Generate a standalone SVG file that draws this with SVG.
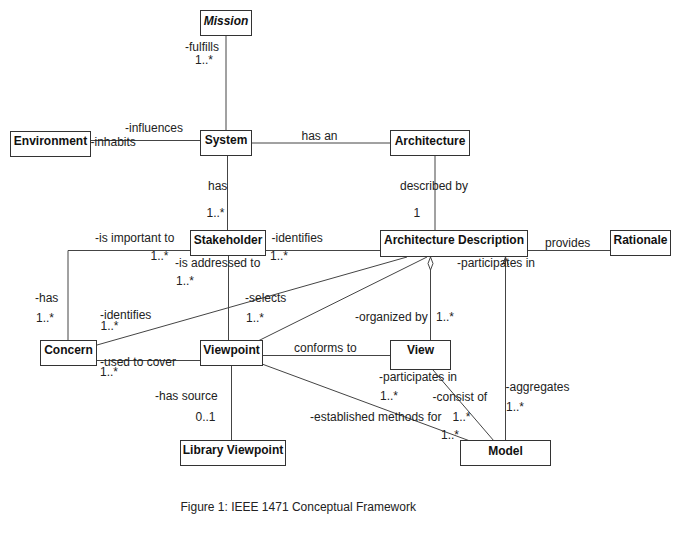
<svg xmlns="http://www.w3.org/2000/svg" width="681" height="538" viewBox="0 0 681 538">
<style>
.box{fill:#fff;stroke:#333;stroke-width:1}
.nt{font-family:"Liberation Sans",Arial,sans-serif;font-size:12px;font-weight:bold;fill:#111;text-anchor:middle}
.lb{font-family:"Liberation Sans",Arial,sans-serif;font-size:12px;fill:#222}
.ln{fill:none;stroke:#444;stroke-width:1}
</style>
<rect width="681" height="538" fill="#fff"/>
<g id="connectors">
<line class="ln" x1="226" y1="36" x2="226" y2="131"/>
<line class="ln" x1="90" y1="140.5" x2="200" y2="140.5"/>
<line class="ln" x1="252" y1="143" x2="390" y2="143"/>
<line class="ln" x1="227.5" y1="156" x2="227.5" y2="231"/>
<line class="ln" x1="435" y1="156" x2="435" y2="231"/>
<line class="ln" x1="266" y1="250.5" x2="380" y2="250.5"/>
<line class="ln" x1="528" y1="250.5" x2="610" y2="250.5"/>
<polyline class="ln" points="191,250.5 68,250.5 68,341"/>
<line class="ln" x1="228.5" y1="256" x2="228.5" y2="341"/>
<line class="ln" x1="97" y1="345" x2="407" y2="257"/>
<line class="ln" x1="258" y1="341" x2="427" y2="257"/>
<line class="ln" x1="97" y1="360.5" x2="200" y2="360.5"/>
<line class="ln" x1="262" y1="355.5" x2="391" y2="355.5"/>
<line class="ln" x1="430.5" y1="270" x2="430.5" y2="340"/>
<polygon points="430.5,257 433,263.5 430.5,270 428,263.5" fill="#fff" stroke="#444" stroke-width="1"/>
<line class="ln" x1="505.5" y1="257" x2="505.5" y2="441"/>
<polyline class="ln" points="502.5,265 505.5,257 508.5,265"/>
<line class="ln" x1="433" y1="370" x2="494" y2="441"/>
<line class="ln" x1="262" y1="364" x2="470" y2="441"/>
<line class="ln" x1="231.5" y1="366" x2="231.5" y2="440"/>
</g>
<g id="labels">
<text class="lb" x="185" y="50.5">-fulfills</text>
<text class="lb" x="195" y="64">1..*</text>
<text class="lb" x="125" y="131.5">-influences</text>
<text class="lb" x="90.5" y="145.5">-inhabits</text>
<text class="lb" x="301.5" y="140">has an</text>
<text class="lb" x="208" y="190">has</text>
<text class="lb" x="206.5" y="216.5">1..*</text>
<text class="lb" x="400" y="189.5">described by</text>
<text class="lb" x="413.5" y="216.5">1</text>
<text class="lb" x="95" y="241.5">-is important to</text>
<text class="lb" x="150.5" y="260">1..*</text>
<text class="lb" x="271.5" y="241.5">-identifies</text>
<text class="lb" x="270" y="260">1..*</text>
<text class="lb" x="545" y="246.5">provides</text>
<text class="lb" x="457" y="267">-participates in</text>
<text class="lb" x="175" y="267">-is addressed to</text>
<text class="lb" x="176" y="285">1..*</text>
<text class="lb" x="35" y="301.5">-has</text>
<text class="lb" x="36" y="321.5">1..*</text>
<text class="lb" x="100" y="319">-identifies</text>
<text class="lb" x="100.5" y="329.5">1..*</text>
<text class="lb" x="245" y="301.5">-selects</text>
<text class="lb" x="246" y="321.5">1..*</text>
<text class="lb" x="355" y="320.5">-organized by</text>
<text class="lb" x="436" y="320.5">1..*</text>
<text class="lb" x="294" y="351.5">conforms to</text>
<text class="lb" x="100" y="366">-used to cover</text>
<text class="lb" x="100" y="376">1..*</text>
<text class="lb" x="379" y="380.5">-participates in</text>
<text class="lb" x="380" y="400">1..*</text>
<text class="lb" x="432.5" y="400.5">-consist of</text>
<text class="lb" x="452.5" y="420.5">1..*</text>
<text class="lb" x="505.5" y="391">-aggregates</text>
<text class="lb" x="506" y="410.5">1..*</text>
<text class="lb" x="310" y="421">-established methods for</text>
<text class="lb" x="441" y="439">1..*</text>
<text class="lb" x="155" y="400">-has source</text>
<text class="lb" x="195.5" y="420.5">0..1</text>
</g>
<g id="mission"><rect class="box" x="200.5" y="10.5" width="51" height="25"/><text class="nt" x="226" y="24.5" font-style="italic">Mission</text></g>
<g id="environment"><rect class="box" x="10.5" y="131.5" width="80" height="25"/><text class="nt" x="50.5" y="144.5">Environment</text></g>
<g id="system"><rect class="box" x="200.5" y="130.5" width="51" height="25"/><text class="nt" x="226" y="144">System</text></g>
<g id="architecture"><rect class="box" x="390.5" y="130.5" width="79" height="25"/><text class="nt" x="430" y="144.5">Architecture</text></g>
<g id="stakeholder"><rect class="box" x="190.5" y="230.5" width="75" height="25"/><text class="nt" x="228" y="244">Stakeholder</text></g>
<g id="architecture-description"><rect class="box" x="380.5" y="230.5" width="147" height="26"/><text class="nt" x="454" y="244">Architecture Description</text></g>
<g id="rationale"><rect class="box" x="610.5" y="230.5" width="60" height="25"/><text class="nt" x="640.5" y="244">Rationale</text></g>
<g id="concern"><rect class="box" x="40.5" y="340.5" width="56" height="25"/><text class="nt" x="68.5" y="354">Concern</text></g>
<g id="viewpoint"><rect class="box" x="200.5" y="340.5" width="62" height="25"/><text class="nt" x="231.5" y="354">Viewpoint</text></g>
<g id="view"><rect class="box" x="390.5" y="340.5" width="60" height="29"/><text class="nt" x="420.5" y="353.5">View</text></g>
<g id="library-viewpoint"><rect class="box" x="180.5" y="440.5" width="105" height="25"/><text class="nt" x="233" y="453.5">Library Viewpoint</text></g>
<g id="model"><rect class="box" x="460.5" y="440.5" width="90" height="25"/><text class="nt" x="505.5" y="454.5">Model</text></g>
<text class="lb" x="180.5" y="510.5">Figure 1: IEEE 1471 Conceptual Framework</text>
</svg>
